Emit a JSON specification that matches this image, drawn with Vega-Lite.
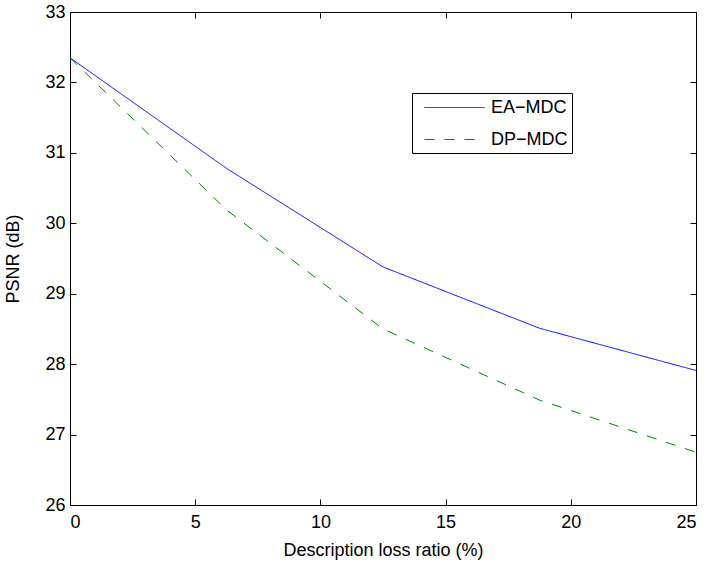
{
  "$schema": "https://vega.github.io/schema/vega-lite/v6.json",
  "width": 626,
  "height": 493,
  "autosize": {"type": "none"},
  "padding": {"left": 70, "top": 12, "right": 14, "bottom": 59},
  "background": "white",
  "config": {
    "view": {"stroke": "black", "strokeWidth": 1},
    "font": "Liberation Sans",
    "axis": {"domain": false, "grid": false, "tickColor": "black", "labelColor": "black", "titleColor": "black", "labelFont": "Liberation Sans", "titleFont": "Liberation Sans", "labelFontSize": 18, "titleFontSize": 18, "titleFontWeight": "normal", "tickSize": 6, "offset": -6}
  },
  "data": {"values": [
    {"x": 0, "y": 32.35, "s": "EA\u2212MDC"},
    {"x": 6.25, "y": 30.78, "s": "EA\u2212MDC"},
    {"x": 12.5, "y": 29.38, "s": "EA\u2212MDC"},
    {"x": 18.75, "y": 28.51, "s": "EA\u2212MDC"},
    {"x": 25, "y": 27.91, "s": "EA\u2212MDC"},
    {"x": 0, "y": 32.35, "s": "DP\u2212MDC"},
    {"x": 6.25, "y": 30.19, "s": "DP\u2212MDC"},
    {"x": 12.5, "y": 28.5, "s": "DP\u2212MDC"},
    {"x": 18.75, "y": 27.49, "s": "DP\u2212MDC"},
    {"x": 25, "y": 26.75, "s": "DP\u2212MDC"}
  ]},
  "layer": [
    {
      "mark": {"type": "line", "strokeWidth": 1, "clip": true},
      "encoding": {
        "x": {"field": "x", "type": "quantitative", "scale": {"domain": [0, 25], "nice": false},
              "axis": {"orient": "bottom", "values": [0, 5, 10, 15, 20, 25], "title": "Description loss ratio (%)", "labelPadding": 8, "titlePadding": 10}},
        "y": {"field": "y", "type": "quantitative", "scale": {"domain": [26, 33], "nice": false, "zero": false},
              "axis": {"orient": "left", "values": [26, 27, 28, 29, 30, 31, 32, 33], "title": "PSNR (dB)", "labelPadding": 5, "titlePadding": 22}},
        "color": {"field": "s", "type": "nominal",
                  "scale": {"domain": ["EA\u2212MDC", "DP\u2212MDC"], "range": ["#0000ff", "#008000"]},
                  "legend": {"orient": "none", "legendX": 342, "legendY": 81, "title": null,
                             "symbolType": "M-3,0H3", "symbolSize": 400, "symbolStrokeWidth": 1,
                             "symbolOffset": 28, "labelOffset": 26,
                             "labelFontSize": 18, "labelFont": "Liberation Sans", "labelColor": "black",
                             "strokeColor": "black", "fillColor": "white", "padding": 4, "rowPadding": 12}},
        "strokeDash": {"field": "s", "type": "nominal",
                       "scale": {"domain": ["EA\u2212MDC", "DP\u2212MDC"], "range": [[1, 0], [10, 10]]},
                       "legend": null}
      }
    },
    {
      "mark": {"type": "line", "opacity": 0},
      "encoding": {
        "x": {"field": "x", "type": "quantitative",
              "axis": {"orient": "top", "values": [0, 5, 10, 15, 20, 25], "labels": false, "title": null}},
        "y": {"field": "y", "type": "quantitative",
              "axis": {"orient": "right", "values": [26, 27, 28, 29, 30, 31, 32, 33], "labels": false, "title": null}},
        "detail": {"field": "s", "type": "nominal"}
      }
    }
  ],
  "resolve": {"axis": {"x": "independent", "y": "independent"}}
}
